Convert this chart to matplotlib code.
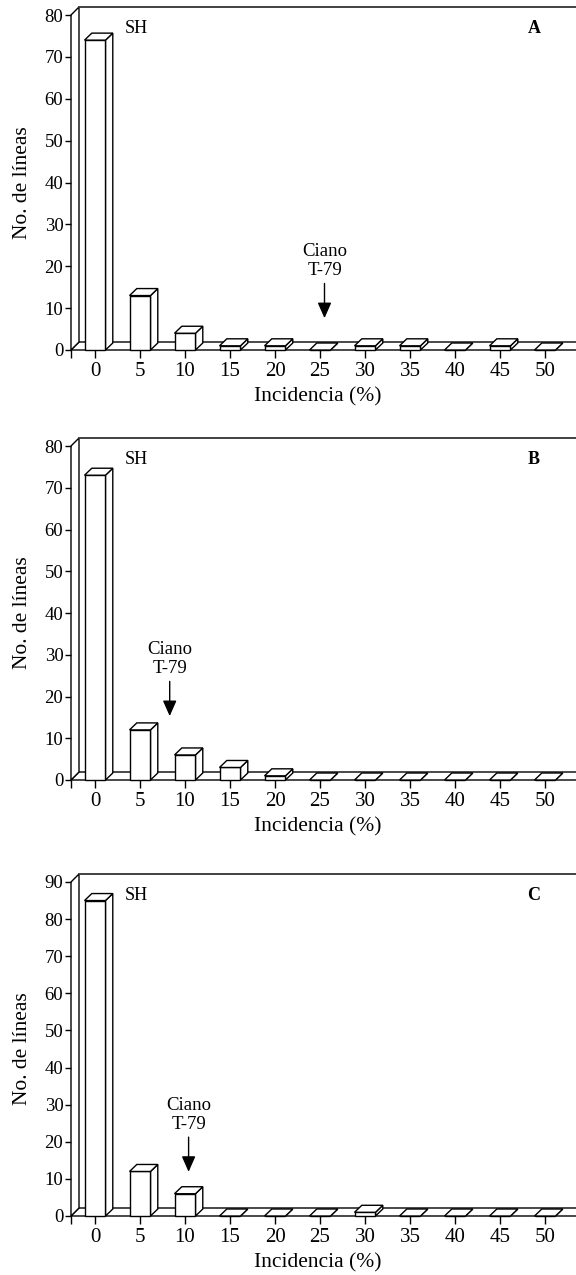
import matplotlib
matplotlib.use("Agg")
import matplotlib.pyplot as plt
from matplotlib.patches import Polygon

# ---------------- data ----------------
categories = [0, 5, 10, 15, 20, 25, 30, 35, 40, 45, 50]
tick_labels = ["0", "5", "10", "15", "20", "25", "30", "35", "40", "45", "50"]
counts_A = [74, 13, 4, 1, 1, 0, 1, 1, 0, 1, 0]
counts_B = [73, 12, 6, 3, 1, 0, 0, 0, 0, 0, 0]
counts_C = [85, 12, 6, 0, 0, 0, 1, 0, 0, 0, 0]
panel_letters = ["A", "B", "C"]
y_max = [80, 80, 90]
y_step = 10
arrow_x = [25.5, 8.3, 10.4]       # incidence (%) where the Ciano T-79 arrow points
arrow_tip = [7.6, 15.3, 11.9]     # value at arrow tip
arrow_label = "Ciano\nT-79"
xlabel = "Incidencia (%)"
ylabel = "No. de líneas"

# ---------------- layout (pixels) ----------------
W, H = 576, 1275
fig = plt.figure(figsize=(W / 100, H / 100), dpi=100)
plt.rcParams['font.family'] = ['Liberation Serif', 'DejaVu Serif']

axis_px = 71          # x pixel of front-left wall
x0_px = 95            # x pixel of category 0
px_per_pct = 9.0      # 45 px per 5 %
zero_px = [350, 780, 1216]
top_px = [15, 446, 882]

bar_w = 2.33          # in % units
bar_dx_px, bar_dy_px = 7.3, 7.0
wall_dx_px, wall_dy_px = 8.0, 8.0

series = [counts_A, counts_B, counts_C]

for k in range(3):
    y0, yt = zero_px[k], top_px[k]
    ax = fig.add_axes([axis_px / W, (H - y0) / H, (W - axis_px) / W, (y0 - yt) / H])
    xl = (axis_px - x0_px) / px_per_pct
    xr = (W - x0_px) / px_per_pct
    ax.set_xlim(xl, xr)
    ax.set_ylim(0, y_max[k])
    ppu = (y0 - yt) / y_max[k]
    bdx, bdy = bar_dx_px / px_per_pct, bar_dy_px / ppu
    wdx, wdy = wall_dx_px / px_per_pct, wall_dy_px / ppu
    lw = 1.0
    ec = "black"

    # floor
    fx_end = xr + 3
    ax.add_patch(Polygon([(xl, 0), (fx_end, 0), (fx_end + wdx, wdy), (xl + wdx, wdy)],
                         closed=True, facecolor="white", edgecolor=ec, lw=lw,
                         clip_on=False, zorder=1))
    # left wall
    ax.add_patch(Polygon([(xl, 0), (xl, y_max[k]), (xl + wdx, y_max[k] + wdy), (xl + wdx, wdy)],
                         closed=True, facecolor="white", edgecolor=ec, lw=lw,
                         clip_on=False, zorder=1))
    # back wall top edge
    ax.plot([xl + wdx, fx_end + wdx], [y_max[k] + wdy, y_max[k] + wdy], color="#333333",
            lw=1.3, clip_on=False, zorder=1)

    # bars
    for c, v in zip(categories, series[k]):
        a, b = c - bar_w / 2, c + bar_w / 2
        front = [(a, 0), (b, 0), (b, v), (a, v)]
        top = [(a, v), (b, v), (b + bdx, v + bdy), (a + bdx, v + bdy)]
        side = [(b, 0), (b + bdx, bdy), (b + bdx, v + bdy), (b, v)]
        for poly in (side, front, top):
            ax.add_patch(Polygon(poly, closed=True, facecolor="white", edgecolor=ec,
                                 lw=lw, clip_on=False, zorder=3, joinstyle="miter"))

    # axes styling
    for s in ("top", "right", "left", "bottom"):
        ax.spines[s].set_visible(False)
    ax.set_xticks(categories)
    ax.set_xticklabels(tick_labels)
    ax.set_xticks([xl], minor=True)
    ax.set_yticks(range(0, y_max[k] + 1, y_step))
    ax.tick_params(axis="x", which="both", direction="out", length=6, width=1.0,
                   labelsize=15, pad=2.5)
    ax.tick_params(axis="y", direction="out", length=4.5, width=1.0, labelsize=13.5, pad=1)
    ax.patch.set_visible(False)

    # labels
    ax.text(-0.097, 0.5, ylabel, transform=ax.transAxes, rotation=90,
            ha="center", va="center", fontsize=15.5)
    ax.text(0.489, -0.140, xlabel, transform=ax.transAxes,
            ha="center", va="center", fontsize=15.5)
    ax.text(0.107, 0.961, "SH", transform=ax.transAxes, ha="left", va="center", fontsize=13)
    ax.text(0.917, 0.961, panel_letters[k], transform=ax.transAxes, ha="center",
            va="center", fontsize=13, fontweight="bold")

    # arrow + label
    ax.annotate("", xy=(arrow_x[k], arrow_tip[k]), xytext=(0, 25), textcoords="offset points",
                arrowprops=dict(arrowstyle="-|>,head_length=0.95,head_width=0.42",
                                color="black", lw=1.0, mutation_scale=10,
                                shrinkA=0, shrinkB=0), zorder=5)
    ax.annotate(arrow_label, xy=(arrow_x[k], arrow_tip[k]), xytext=(0, 28),
                textcoords="offset points", ha="center", va="bottom", fontsize=13.5,
                linespacing=1.15, zorder=5)

fig.savefig("out.png", dpi=100)
